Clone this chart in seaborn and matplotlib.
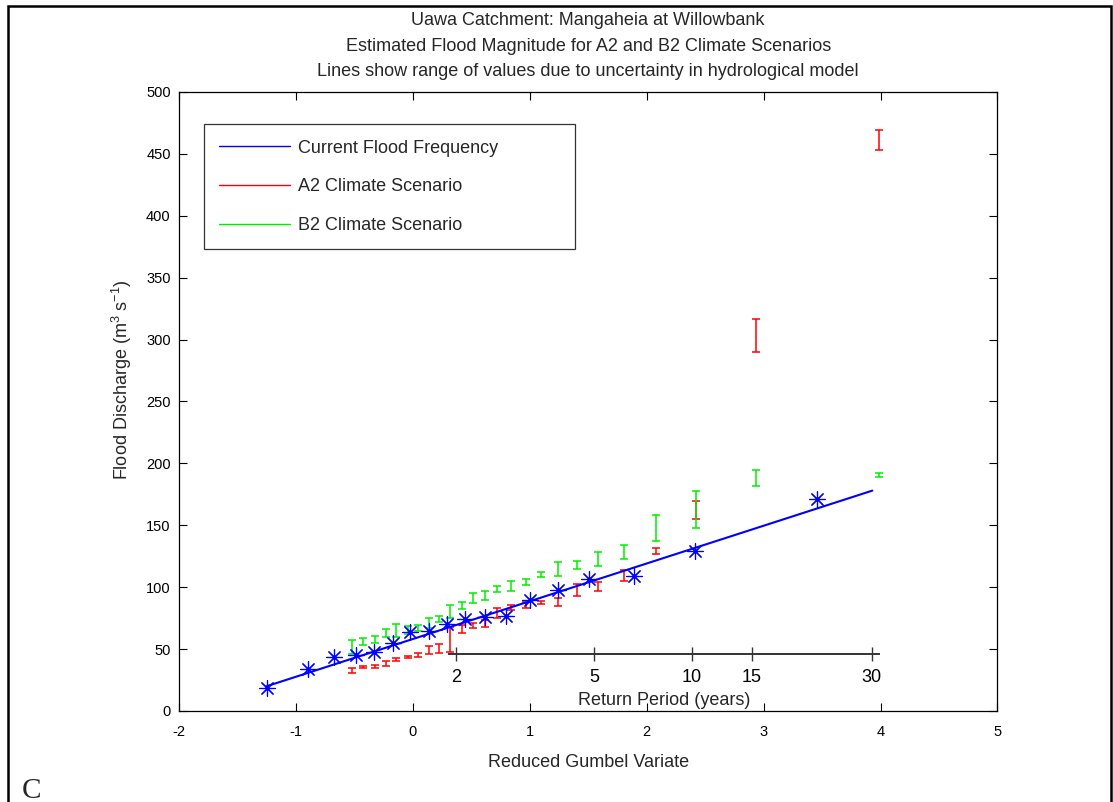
import numpy as np
import pandas as pd
import matplotlib
matplotlib.use("Agg")
import matplotlib.pyplot as plt
import seaborn as sns
from matplotlib.lines import Line2D
from matplotlib.patches import Rectangle

# ---------------- data ----------------
title_lines = ["Uawa Catchment: Mangaheia at Willowbank",
               "Estimated Flood Magnitude for A2 and B2 Climate Scenarios",
               "Lines show range of values due to uncertainty in hydrological model"]

# observed annual maxima (blue asterisks)
obs_x = [-1.25, -0.90, -0.67, -0.49, -0.33, -0.17, -0.02, 0.14, 0.29, 0.45,
         0.62, 0.80, 1.00, 1.24, 1.51, 1.89, 2.41, 3.46]
obs_q = [18.3, 34.2, 43.9, 45.3, 47.7, 54.7, 63.6, 64.7, 70.3, 74.1,
         75.7, 77.0, 89.7, 97.8, 106.4, 109.1, 129.5, 171.3]

# current flood frequency line
fit_x = [-1.25, 3.93]
fit_q = [20.0, 178.0]

# scenario ranges
scen_x = [-0.523, -0.424, -0.324, -0.232, -0.144, -0.044, 0.041, 0.138, 0.224, 0.318,
          0.418, 0.512, 0.617, 0.720, 0.839, 0.965, 1.096, 1.244, 1.406, 1.586,
          1.808, 2.077, 2.421, 2.935, 3.986]
a2_lo = [31, 34.5, 35, 36, 40, 42.5, 44, 46, 47, 48,
         63, 67, 68, 75, 81.5, 83, 86.5, 85, 93, 97,
         105, 126.5, 155, 290, 453]
a2_hi = [35, 36.5, 37, 40, 42.5, 44.5, 47, 52.5, 54.5, 68,
         69.5, 71, 73.5, 83, 85.5, 88, 88.5, 91, 102.5, 104.5,
         114, 132, 170, 317, 469]
b2_lo = [46, 53, 55, 60, 60, 62, 65, 67, 72, 75,
         82, 87.5, 90, 96.5, 97, 102, 108, 109, 115, 117,
         123, 137.5, 147.5, 182, 189]
b2_hi = [57, 59, 60.5, 66, 70, 69, 69.5, 75, 77, 86,
         88, 95, 97, 101, 105, 106.5, 112.5, 120.5, 121, 128.5,
         134, 158, 178, 195, 192.5]

# return period axis
rp_labels = ["2", "5", "10", "15", "30"]
rp_pos = [0.367, 1.553, 2.386, 2.899, 3.925]

legend_labels = ["Current Flood Frequency", "A2 Climate Scenario", "B2 Climate Scenario"]

# ---------------- style ----------------
sns.set_style("ticks")
plt.rcParams["font.family"] = ["Liberation Sans", "DejaVu Sans"]
plt.rcParams["mathtext.fontset"] = "custom"
plt.rcParams["mathtext.rm"] = "Liberation Sans"
plt.rcParams["mathtext.it"] = "Liberation Sans:italic"
plt.rcParams["mathtext.default"] = "regular"
plt.rcParams["axes.unicode_minus"] = False

TICK_FS = 10.5
LAB_FS = 13
TITLE_FS = 13

fig, ax = plt.subplots(figsize=(11.13, 8.02), dpi=100)
fig.subplots_adjust(left=0.1608, right=0.8962, bottom=0.1135, top=0.8853)

BLUE, RED, GREEN = "#0000ff", "#ff0000", "#00ee00"

sns.lineplot(x=fit_x, y=fit_q, color=BLUE, lw=1.5, ax=ax, zorder=3)
sns.scatterplot(x=obs_x, y=obs_q, marker=(8, 2, 0), s=130, color=BLUE,
                edgecolor=BLUE, linewidth=0.85, ax=ax, zorder=4)

sx = np.array(scen_x)
for lo, hi, col in [(a2_lo, a2_hi, RED), (b2_lo, b2_hi, GREEN)]:
    lo = np.array(lo); hi = np.array(hi)
    mid = (lo + hi) / 2
    ax.errorbar(sx, mid, yerr=[mid - lo, hi - mid], fmt="none", ecolor=col,
                elinewidth=1.1, capsize=2.6, capthick=1.1, zorder=2)

ax.set_xlim(-2, 5)
ax.set_ylim(0, 500)
ax.set_xticks(range(-2, 6))
ax.set_yticks(range(0, 501, 50))
ax.tick_params(direction="in", length=5.8, width=0.8, top=True, right=True,
               labelsize=TICK_FS, colors="black")
ax.tick_params(axis="x", pad=10)
ax.tick_params(axis="y", pad=6)
for s in ax.spines.values():
    s.set_visible(True)
    s.set_linewidth(0.9)
    s.set_color("black")

ax.set_xlabel("Reduced Gumbel Variate", fontsize=LAB_FS, labelpad=11)
ax.set_ylabel("Flood Discharge (m$^{3}$ s$^{-1}$)", fontsize=LAB_FS)
ax.yaxis.set_label_coords(-0.055, 0.535)

# three title lines
for line, yc in zip(title_lines, (20.5, 46.5, 71.5)):
    ax.text(0.5, 1 + (92 - yc) / 619, line, transform=ax.transAxes,
            ha="center", va="center", fontsize=TITLE_FS)

handles = [Line2D([], [], color=c, lw=1) for c in (BLUE, RED, GREEN)]
leg_top = 0.950 - 1.5 / 619
leg_w = (575 - 204) / 818.5
leg = ax.legend(handles, legend_labels, loc="upper left", mode="expand",
                bbox_to_anchor=(0.0305, leg_top - 0.3, leg_w, 0.3), borderaxespad=0,
                fontsize=LAB_FS, frameon=True, fancybox=False, handlelength=3.9,
                handletextpad=0.45, labelspacing=1.2, borderpad=0.85)
leg.get_frame().set_edgecolor("black")
leg.get_frame().set_linewidth(0.9)

# return period axis, drawn inside the plot
x0, x1, yline = 0.31, 3.99, 46.0
rax = ax.inset_axes([x0, yline, x1 - x0, 1.0], transform=ax.transData)
rax.set_xlim(x0, x1)
rax.set_ylim(0, 1)
rax.patch.set_alpha(0)
for k in ("top", "left", "right"):
    rax.spines[k].set_visible(False)
rax.spines["bottom"].set_color("#333333")
rax.spines["bottom"].set_linewidth(1.4)
rax.set_yticks([])
rax.set_xticks(rp_pos)
rax.set_xticklabels(rp_labels)
rax.tick_params(axis="x", direction="inout", length=9.5, width=1.0,
                colors="#333333", labelcolor="black", labelsize=LAB_FS, pad=6)
rax.set_xlabel("Return Period (years)", fontsize=LAB_FS, labelpad=4)

# figure frame and panel letter
fig.patches.append(Rectangle((8 / 1113, -0.05), (1111 - 8) / 1113, 1.05 - 6 / 802,
                             transform=fig.transFigure, fill=False,
                             edgecolor="black", lw=1.8))
fig.text(22 / 1113, 1 - 798 / 802, "C", family="Liberation Serif",
         fontsize=21, va="baseline", ha="left")

fig.savefig("out.png", dpi=100)
